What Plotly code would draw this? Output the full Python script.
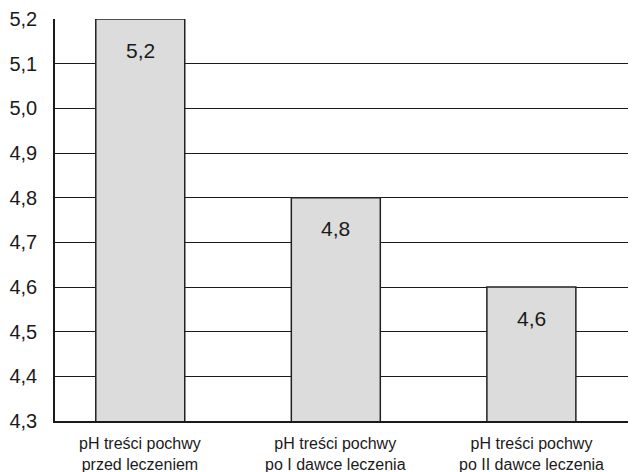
import plotly.graph_objects as go

categories = ["przed", "po I", "po II"]
values = [5.2, 4.8, 4.6]
label_line1 = ["pH treści pochwy", "pH treści pochwy", "pH treści pochwy"]
label_line2 = ["przed leczeniem", "po I dawce leczenia", "po II dawce leczenia"]
y_ticks = [4.3, 4.4, 4.5, 4.6, 4.7, 4.8, 4.9, 5.0, 5.1, 5.2]

FONT = "Liberation Sans, Arial, sans-serif"

fig = go.Figure()
fig.add_trace(go.Bar(
    x=categories, y=values,
    width=0.455,
    marker=dict(color="#dcdcdc", line=dict(color="#222222", width=1.5)),
    hoverinfo="skip",
))

annotations = []
for c, v in zip(categories, values):
    annotations.append(dict(
        x=c, y=v, xref="x", yref="y", text=f"{v:.1f}".replace(".", ","),
        showarrow=False, yshift=-31, yanchor="middle",
        font=dict(family=FONT, size=21, color="#1a1a1a"),
    ))
for c, l1, l2 in zip(categories, label_line1, label_line2):
    annotations.append(dict(
        x=c, y=0, xref="x", yref="paper", text=f"{l1}<br>{l2}", showarrow=False,
        yanchor="middle", yshift=-33, borderpad=0,
        font=dict(family=FONT, size=16, color="#1a1a1a"),
    ))

fig.update_layout(
    width=628, height=464,
    margin=dict(l=47, r=0, t=11, b=51),
    paper_bgcolor="white", plot_bgcolor="white",
    separators=", ",
    showlegend=False,
    annotations=annotations,
    font=dict(family=FONT, color="#1a1a1a"),
)
fig.update_xaxes(
    type="category", range=[-0.436, 2.535],
    showticklabels=False, showgrid=False, ticks="",
    showline=True, linecolor="#1a1a1a", linewidth=1.5,
)
fig.update_yaxes(
    range=[4.3, 5.2], tickvals=y_ticks, tickformat=".1f",
    showgrid=True, gridcolor="#1a1a1a", gridwidth=1.2,
    showline=True, linecolor="#1a1a1a", linewidth=1.5,
    zeroline=False, ticks="", ticklabelstandoff=12,
    tickfont=dict(family=FONT, size=20, color="#1a1a1a"),
)

fig.write_html("out.html")
